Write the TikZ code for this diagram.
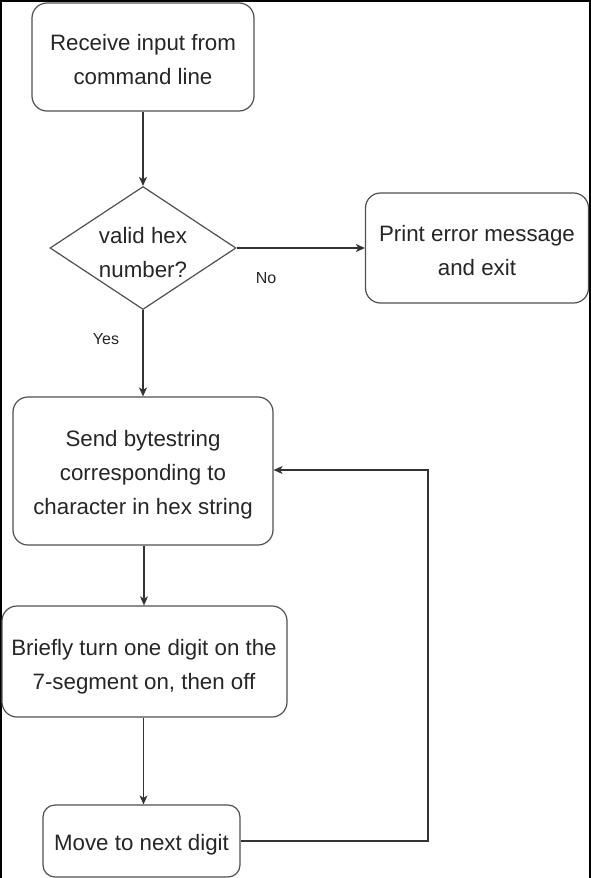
\documentclass[tikz,border=0pt]{standalone}
\usepackage{fontspec}
\setmainfont{Liberation Sans}
\usetikzlibrary{arrows.meta,shapes.geometric}
\definecolor{boxline}{HTML}{505050}
\definecolor{txt}{HTML}{262626}
\tikzset{
  flowbox/.style={draw=boxline, line width=1.2pt, rounded corners=15pt, inner sep=0pt},
  decision/.style={draw=boxline, line width=1.2pt, diamond, inner sep=0pt},
  boxtext/.style={text=txt, font=\fontsize{22.3}{34}\selectfont, align=center, inner sep=0pt},
  conn/.style={draw=black!80, line width=1.1pt, -{Stealth[length=9pt,width=8pt,inset=2.5pt]}},
  lbl/.style={text=txt, font=\fontsize{16}{18}\selectfont, inner sep=0pt}
}
\begin{document}
\begin{tikzpicture}[x=1pt,y=-1pt]
\useasboundingbox (0,0) rectangle (591,878);
\fill[white] (0,0) rectangle (591,878);
\draw[black, line width=2.5pt] (1.2,878) -- (1.2,1.2) -- (589.8,1.2) -- (589.8,878);
% nodes
\node[flowbox, minimum width=222pt, minimum height=108pt] (recv) at (143,57) {};
\node[boxtext] (recvt) at (143,60) {Receive input from\\command line};
\node[decision, minimum width=186pt, minimum height=123pt, aspect=1.51] (dec) at (143,248) {};
\node[boxtext] (dect) at (143,253) {valid hex\\number?};
\node[flowbox, minimum width=223pt, minimum height=110pt] (err) at (477,248) {};
\node[boxtext] (errt) at (477,251) {Print error message\\and exit};
\node[flowbox, minimum width=260pt, minimum height=148pt] (send) at (143,471) {};
\node[boxtext] (sendt) at (143,475) {Send bytestring\\corresponding to\\character in hex string};
\node[flowbox, minimum width=285pt, minimum height=111pt] (blink) at (144.5,661.5) {};
\node[boxtext] (blinkt) at (144,667) {Briefly turn one digit on the\\7-segment on, then off};
\node[flowbox, rounded corners=12pt, minimum width=197pt, minimum height=72pt] (move) at (141.5,841) {};
\node[boxtext] (movet) at (141.5,845) {Move to next digit};
\coordinate (loopA) at (428,841);
\coordinate (loopB) at (428,470);
% labels
\node[lbl] (no) at (266,278) {No};
\node[lbl] (yes) at (106,339) {Yes};
% connectors
\draw[conn] (recv.south) -- (dec.north);
\draw[conn] (dec.east) -- (err.west);
\draw[conn] (dec.south) -- (send.north);
\draw[conn] (send.south -| 144,0) -- (blink.north -| 144,0);
\draw[conn] (blink.south -| 143.5,0) -- (move.north -| 143.5,0);
\draw[conn] (move.east) -- (loopA) -- (loopB) -- (send.east |- loopB);
\end{tikzpicture}
\end{document}
